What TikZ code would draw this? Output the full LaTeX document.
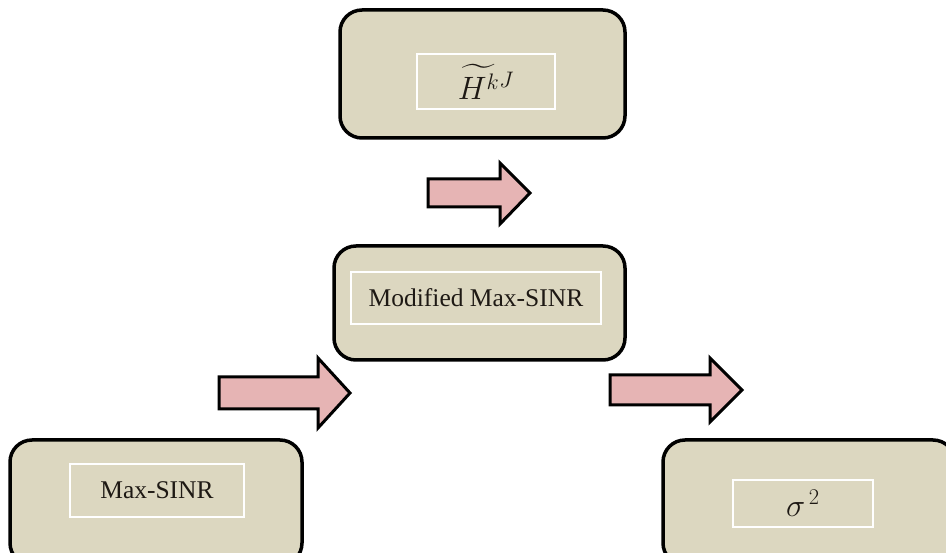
\documentclass[tikz,border=0pt]{standalone}
\usepackage{amsmath}
\usepackage{fontspec}
\setmainfont{Liberation Serif}
\begin{document}
\begin{tikzpicture}[x=1pt,y=-1pt,
  box/.style={draw=black, line width=3.5pt, rounded corners=22pt, fill=boxfill, inner sep=0pt},
  inbox/.style={draw=white, line width=1.3pt, inner sep=0pt, text=textcol, font=\fontsize{25.5}{30}\selectfont},
  blockarrow/.style={draw=black, line width=3pt, fill=arrowfill, line join=miter}]
\definecolor{boxfill}{RGB}{220,215,192}
\definecolor{arrowfill}{RGB}{230,180,180}
\definecolor{textcol}{RGB}{30,25,20}
\useasboundingbox (0,0) rectangle (946,553);
\clip (0,0) rectangle (946,553);
% boxes
\node[box, minimum width=285pt, minimum height=128pt] (top) at (482.5,74) {};
\node[box, minimum width=291pt, minimum height=114pt] (mid) at (479.5,303) {};
\node[box, minimum width=292pt, minimum height=125pt] (bl) at (156,502.5) {};
\node[box, minimum width=292pt, minimum height=125pt] (br) at (809,502.5) {};
% inner labels
\node[inbox, minimum width=138pt, minimum height=55pt] (toplab) at (486,81.5) {\scalebox{1.3}{$\widetilde{H^{k}}{}^{J}$}};
\node[inbox, minimum width=250pt, minimum height=52pt] (midlab) at (476,298) {Modified Max-SINR};
\node[inbox, minimum width=174pt, minimum height=53pt] (bllab) at (157,490.5) {Max-SINR};
\node[inbox, minimum width=140pt, minimum height=47pt] (brlab) at (803,503.5) {\scalebox{1.3}{$\sigma^{\,2}$}};
% block arrows
\draw[blockarrow] (428,179) -- (500,179) -- (500,163) -- (530,193) -- (500,224) -- (500,207) -- (428,207) -- cycle;
\draw[blockarrow] (219,377) -- (318,377) -- (318,358) -- (350,393) -- (318,428) -- (318,409) -- (219,409) -- cycle;
\draw[blockarrow] (610,375) -- (710,375) -- (710,358) -- (742,390) -- (710,422) -- (710,405) -- (610,405) -- cycle;
\end{tikzpicture}
\end{document}
